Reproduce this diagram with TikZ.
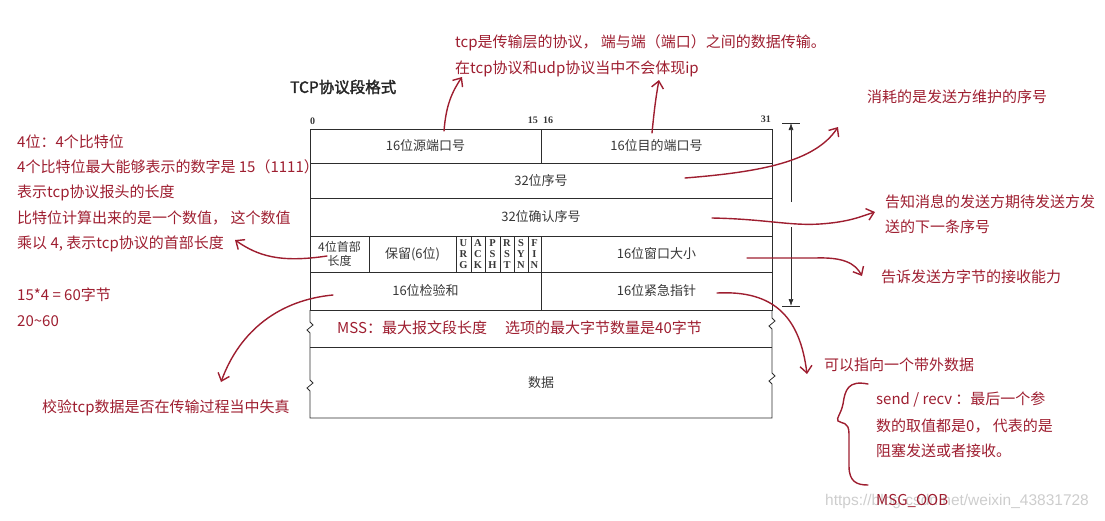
\documentclass[tikz,border=0pt]{standalone}
\usepackage{fontspec}
\usetikzlibrary{arrows.meta}
\newfontfamily\cjk{Noto Sans CJK SC}
\newfontfamily\cjkbold[FakeBold=2]{Noto Sans CJK SC}
\newfontfamily\bookserif{Liberation Serif}
\newfontfamily\wmfont{Liberation Sans}
\definecolor{ink}{RGB}{158,30,48}
\definecolor{tline}{RGB}{45,45,45}
\definecolor{ttext}{RGB}{55,55,55}
\definecolor{wmgray}{RGB}{205,205,205}
\begin{document}
\begin{tikzpicture}[x=1pt,y=-1pt,
 note/.style={font=\cjk\fontsize{15}{18}\selectfont, text=ink, inner sep=0pt, anchor=west},
 cell/.style={draw=tline, line width=0.8pt, inner sep=0pt, outer sep=0pt, font=\cjk\fontsize{13}{15}\selectfont, text=ttext},
 flag/.style={cell, font=\bookserif\bfseries\fontsize{10.5}{11}\selectfont, align=center},
 bitnum/.style={font=\bookserif\bfseries\fontsize{10}{11}\selectfont, text=ttext, inner sep=0pt},
 tablerule/.style={draw=tline, line width=0.8pt},
 redline/.style={draw=ink, line width=1.4pt, line cap=round},
 redarrow/.style={redline, -{Straight Barb[length=7pt,width=12pt,line width=1.4pt]}},
 dimarrow/.style={draw=tline, line width=0.7pt, -{Latex[length=7pt,width=5pt]}}
]
\path[use as bounding box] (0,0) rectangle (1105,520);

% title and bit numbers
\node[font=\cjkbold\fontsize{15.5}{17}\selectfont, text=black!85, inner sep=0pt, anchor=west] (title) at (290,87) {TCP协议段格式};
\node[bitnum, anchor=west] (b0) at (310,121) {0};
\node[bitnum, anchor=east] (b15) at (538,120) {15};
\node[bitnum, anchor=west] (b16) at (543,120) {16};
\node[bitnum, anchor=east] (b31) at (771,119) {31};

% table cells
\node[cell, minimum width=231pt, minimum height=34pt] (src) at (425.5,146) {16位源端口号};
\node[cell, minimum width=231pt, minimum height=34pt] (dst) at (656.5,146) {16位目的端口号};
\node[cell, minimum width=462pt, minimum height=35pt] (seq) at (541,180.5) {32位序号};
\node[cell, minimum width=462pt, minimum height=38pt] (ack) at (541,217) {32位确认序号};
\node[cell, minimum width=59pt, minimum height=36pt, align=center, font=\cjk\fontsize{12}{13.5}\selectfont] (hlen) at (339.5,254) {4位首部\\长度};
\node[cell, minimum width=87pt, minimum height=36pt] (rsv) at (412.5,254) {保留(6位)};
\node[flag, minimum width=15pt, minimum height=36pt] (fU) at (463.5,254) {U\\R\\G};
\node[flag, minimum width=14pt, minimum height=36pt] (fA) at (478,254) {A\\C\\K};
\node[flag, minimum width=15pt, minimum height=36pt] (fP) at (492.5,254) {P\\S\\H};
\node[flag, minimum width=14pt, minimum height=36pt] (fR) at (507,254) {R\\S\\T};
\node[flag, minimum width=14pt, minimum height=36pt] (fS) at (521,254) {S\\Y\\N};
\node[flag, minimum width=13pt, minimum height=36pt] (fF) at (534.5,254) {F\\I\\N};
\node[cell, minimum width=231pt, minimum height=36pt] (win) at (656.5,254) {16位窗口大小};
\node[cell, minimum width=231pt, minimum height=38pt] (chk) at (425.5,291) {16位检验和};
\node[cell, minimum width=231pt, minimum height=38pt] (urg) at (656.5,291) {16位紧急指针};

% options and data rows with break marks
\draw[tablerule] (310,310) -- (310,322) -- (313,325) -- (307,330) -- (310,333) -- (310,380) -- (313,383) -- (307,388) -- (310,391) -- (310,418) -- (772,418) -- (772,384) -- (769,381) -- (775,376) -- (772,373) -- (772,329) -- (769,326) -- (775,321) -- (772,318) -- (772,310);
\draw[tablerule] (310,347) -- (772,347);
\node[font=\cjk\fontsize{13}{15}\selectfont, text=ttext, inner sep=0pt] (data) at (541,383) {数据};
\node[note] (mss) at (337,328) {MSS：最大报文段长度};
\node[note] (opt) at (505,328) {选项的最大字节数量是40字节};

% dimension arrow
\coordinate (dimT) at (791,123);
\coordinate (dimB) at (791,306);
\coordinate (gapT) at (791,202);
\coordinate (gapB) at (791,227);
\draw[tablerule, line width=0.7pt] (782,123) -- (800,123);
\draw[tablerule, line width=0.7pt] (782,306) -- (800,306);
\draw[dimarrow] (gapT) -- (dimT);
\draw[dimarrow] (gapB) -- (dimB);

% annotation texts
\node[note] (top1) at (455,43) {tcp是传输层的协议， 端与端（端口）之间的数据传输。};
\node[note] (top2) at (455,69) {在tcp协议和udp协议当中不会体现ip};

\node[note] (l1) at (17,142) {4位：4个比特位};
\node[note] (l2) at (17,167) {4个比特位最大能够表示的数字是 15（1111）};
\node[note] (l3) at (17,193) {表示tcp协议报头的长度};
\node[note] (l4) at (17,218) {比特位计算出来的是一个数值， 这个数值};
\node[note] (l5) at (17,244) {乘以 4, 表示tcp协议的首部长度};
\node[note] (l6) at (17,295) {15*4 = 60字节};
\node[note] (l7) at (17,321) {20\textasciitilde 60};
\node[note] (chknote) at (42,408) {校验tcp数据是否在传输过程当中失真};

\node[note] (consume) at (867,97) {消耗的是发送方维护的序号};
\node[note] (acka) at (885,202) {告知消息的发送方期待发送方发};
\node[note] (ackb) at (885,227) {送的下一条序号};
\node[note] (winnote) at (881,277) {告诉发送方字节的接收能力};
\node[note] (oob) at (824,365) {可以指向一个带外数据};
\node[note] (s1) at (876,399) {send / recv ：最后一个参};
\node[note] (s2) at (876,426) {数的取值都是0， 代表的是};
\node[note] (s3) at (876,451) {阻塞发送或者接收。};
\node[font=\wmfont\fontsize{15.5}{18}\selectfont, text=wmgray, inner sep=0pt, anchor=west] (wm) at (825,501) {https://blog.csdn.net/weixin\_43831728};
\node[note] (msg) at (876,501) {MSG\_OOB};

% red connector coordinates
\coordinate (c1s) at (444,131);  \coordinate (c1e) at (462,77);
\coordinate (c2s) at (652,133);  \coordinate (c2e) at (659,80);
\coordinate (c3s) at (685,178);  \coordinate (c3e) at (838,127);
\coordinate (c4s) at (712,218);  \coordinate (c4e) at (875,212);
\coordinate (c5s) at (747,258);  \coordinate (c5e) at (862,276);
\coordinate (c6s) at (717,293);  \coordinate (c6e) at (807,374);
\coordinate (c7s) at (327,256);  \coordinate (c7e) at (235,240);
\coordinate (c8s) at (333,295);  \coordinate (c8e) at (221,382);

\draw[redarrow] (c1s) .. controls (446,105) and (452,92) .. (c1e);
\draw[redarrow] (c2s) .. controls (654,112) and (656,96) .. (c2e);
\draw[redarrow] (c3s) .. controls (760,172) and (815,162) .. (c3e);
\draw[redarrow] (c4s) .. controls (765,219) and (790,226) .. (820,224) .. controls (850,222) and (862,216) .. (c4e);
\draw[redarrow] (c5s) -- (815,258) .. controls (843,257) and (855,263) .. (c5e);
\draw[redarrow] (c6s) .. controls (775,290) and (800,318) .. (c6e);
\draw[redarrow] (c7s) .. controls (280,263) and (258,256) .. (c7e);
\draw[redarrow] (c8s) .. controls (280,300) and (240,330) .. (c8e);

% brace by send/recv
\coordinate (brT) at (868,384);
\coordinate (brB) at (868,485);
\draw[redline] (brT) .. controls (848,380) and (845,390) .. (843,404) .. controls (841,414) and (836,418) .. (838,421) .. controls (842,424) and (849,421) .. (849,434) -- (849,466) .. controls (849,482) and (857,485) .. (brB);
\end{tikzpicture}
\end{document}
